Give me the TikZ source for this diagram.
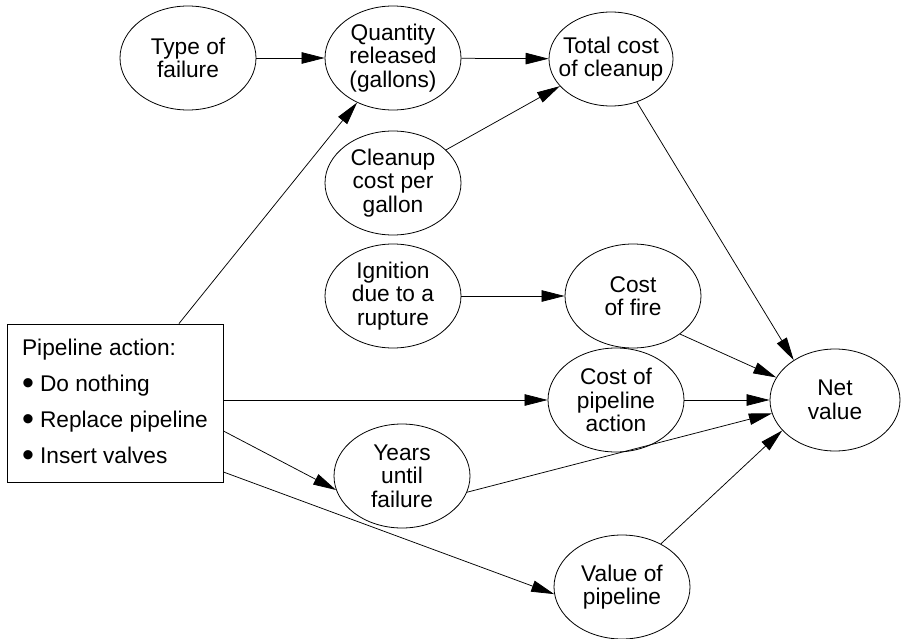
\documentclass[tikz,border=0pt]{standalone}
\usepackage{fontspec}
\setmainfont{Liberation Sans}
\usetikzlibrary{arrows.meta,shapes.geometric}
\newcommand{\bul}{\makebox[18pt][l]{\raisebox{-3.5pt}{\scalebox{1.5}{\textbullet}}}}
\begin{document}
\begin{tikzpicture}[x=1pt,y=-1pt,
  every node/.style={font=\fontsize{22.7}{23.5}\selectfont},
  var/.style={ellipse,draw,line width=0.8pt,minimum width=136pt,minimum height=104pt,
    inner xsep=-14pt,inner ysep=0pt,align=center},
  decision/.style={rectangle,draw,line width=0.9pt,minimum width=216pt,minimum height=158pt,
    inner sep=0pt,align=left,font=\fontsize{22.7}{36}\selectfont},
  link/.style={line width=0.75pt,-{Triangle[length=23pt,width=11.5pt]}}]
\useasboundingbox (0,0) rectangle (907,639);

% chance and value nodes
\node[var] (type)  at (188,58)  {Type of\\failure};
\node[var] (qty)   at (393,58)  {Quantity\\released\\(gallons)};
\node[var,minimum width=124pt,minimum height=94pt] (total) at (611,59) {Total cost\\of cleanup};
\node[var] (clean) at (393,183) {Cleanup\\cost per\\gallon};
\node[var] (ign)   at (393,296) {Ignition\\due to a\\rupture};
\node[var] (fire)  at (633,296) {Cost\\of fire};
\node[var] (pipe)  at (616,400) {Cost of\\pipeline\\action};
\node[var,minimum width=130pt,minimum height=102pt] (net) at (835,400) {Net\\value};
\node[var] (years) at (402,476) {Years\\until\\failure};
\node[var] (value) at (622,587) {Value of\\pipeline};

% decision box
\node[decision] (box) at (115,403)
  {Pipeline action:\\\bul Do nothing\\\bul Replace pipeline\\\bul Insert valves};

% influences
\draw[link] (type) -- (qty);
\draw[link] (qty) -- (total);
\draw[link] (clean.32) -- (total.-152);
\draw[link] (box) -- (qty);
\draw[link] (total.-59) -- (net.136);
\draw[link] (ign) -- (fire);
\draw[link] (fire.-39) -- (net.159);
\draw[link] (box.east |- pipe) -- (pipe);
\draw[link] (pipe) -- (net);
\draw[link] ([yshift=-28pt]box.east) -- (years.192);
\draw[link] ([yshift=-69pt]box.east) -- (value.186);
\draw[link] (years.-14) -- (net.192);
\draw[link] (value.48) -- (net.-150);
\end{tikzpicture}
\end{document}
